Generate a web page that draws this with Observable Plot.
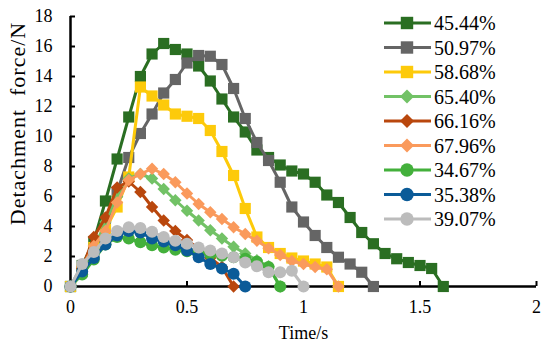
<!DOCTYPE html>
<html><head><meta charset="utf-8">
<script src="https://cdn.jsdelivr.net/npm/d3@7"></script>
<script src="https://cdn.jsdelivr.net/npm/@observablehq/plot@0.6"></script>
<style>
body{margin:0;background:#fff;}
#chart{position:relative;width:550px;height:346px;font-family:"Liberation Serif","Times New Roman",serif;}
#chart svg, #chart text{font-family:"Liberation Serif","Times New Roman",serif !important;}
#legend{position:absolute;left:380px;top:8px;}
</style></head><body><div id="chart"></div>
<script>
// ---- data ----
const seriesNames = ["45.44%","50.97%","58.68%","65.40%","66.16%","67.96%","34.67%","35.38%","39.07%"];
const seriesColors = ["#2a6e22","#656565","#fdca0a","#72c266","#b9470d","#fa9a5c","#43b03b","#0b5b98","#bcbcbc"];
const seriesSymbols = ["square","square","square","diamond2","diamond2","diamond2","circle","circle","circle"];
const timeValues = [0,0.05,0.1,0.15,0.2,0.25,0.3,0.35,0.4,0.45,0.5,0.55,0.6,0.65,0.7,0.75,0.8,0.85,0.9,0.95,1.0,1.05,1.1,1.15,1.2,1.25,1.3,1.35,1.4,1.45,1.5,1.55,1.6];
const f4544 = [0,1.4,3.0,5.7,8.5,11.3,14.0,15.5,16.2,15.8,15.5,14.7,13.7,12.5,11.3,10.3,9.1,8.6,8.1,7.7,7.5,6.95,6.1,5.6,4.6,3.6,2.85,2.2,1.85,1.6,1.4,1.2,0];
const f5097 = [0,1.0,2.3,4.0,6.3,8.6,10.2,11.5,12.9,13.8,14.9,15.4,15.35,14.8,13.2,11.2,9.6,8.4,6.95,5.3,4.3,3.4,2.6,1.95,1.5,0.95,0];
const f5868 = [0,1.2,2.6,3.8,5.3,7.3,13.3,12.7,12.1,11.5,11.35,11.2,10.4,9.0,7.4,5.2,3.3,2.6,2.2,1.9,1.7,1.5,1.3,0];
const f6540 = [0,1.2,2.5,4.3,6.0,7.2,7.5,7.2,6.5,5.75,5.05,4.4,3.75,3.2,2.65,2.2,1.75,1.35,0];
const f6616 = [0,1.2,3.3,4.6,6.6,7.0,6.3,5.3,4.4,3.7,3.1,2.5,1.9,1.3,0];
const f6796 = [0,1.3,2.7,3.7,5.6,7.1,7.5,7.85,7.5,6.95,6.2,5.5,4.95,4.5,3.95,3.5,3.05,2.55,2.1,1.7,1.5,1.3,1.15,0];
const f3467 = [0,0.8,1.8,2.8,3.3,3.2,2.95,2.75,2.6,2.45,2.35,2.25,2.15,2.05,1.95,1.85,1.65,1.3,0];
const f3538 = [0,1.0,1.9,2.8,3.4,3.7,3.6,3.2,3.0,2.75,2.4,1.95,1.5,1.2,0.85,0];
const f3907 = [0,1.5,2.3,3.2,3.7,3.95,3.9,3.65,3.3,3.05,2.85,2.6,2.4,2.2,1.95,1.6,1.35,0.95,0.95,1.05,0];
const seriesValues = [f4544,f5097,f5868,f6540,f6616,f6796,f3467,f3538,f3907];
const xTicks = [0,0.5,1,1.5,2];
const yTicks = [0,2,4,6,8,10,12,14,16,18];
const xLabel = "Time/s";
const yLabel = "Detachment\u00a0 force/N";

const FONT = '"Liberation Serif", "Times New Roman", serif';
const rows = seriesNames.map((name,i)=>seriesValues[i].map((v,j)=>({series:name,t:timeValues[j],f:v})));

const symR = {square:6.3, diamond2:5.6, circle:6};
const seriesMarks = rows.flatMap((data,i)=>[
  Plot.line(data,{x:"t",y:"f",stroke:seriesColors[i],strokeWidth:3}),
  Plot.dot(data,{x:"t",y:"f",symbol:seriesSymbols[i],fill:seriesColors[i],stroke:"none",r:symR[seriesSymbols[i]]})
]);

const plot = Plot.plot({
  width:550, height:346,
  marginLeft:70, marginRight:14, marginTop:16, marginBottom:60,
  style:{fontFamily:FONT, fontSize:"18px", color:"black", background:"white", overflow:"visible"},
  x:{domain:[0,2]},
  y:{domain:[0,18]},
  marks:[
    Plot.axisY(yTicks,{tickSize:0,tickPadding:18,label:null,fontSize:18}),
    Plot.axisY(yTicks,{tickSize:-5,tickFormat:()=>"",label:null,strokeWidth:2}),
    Plot.axisX(xTicks,{tickSize:0,tickPadding:14,tickFormat:d=>String(d),label:null,fontSize:18}),
    Plot.axisX(xTicks,{tickSize:-5,tickFormat:()=>"",label:null,strokeWidth:2}),
    Plot.ruleX([0],{strokeWidth:2.5}),
    Plot.ruleY([0],{strokeWidth:2.5}),
    ...seriesMarks,
    Plot.text([yLabel],{frameAnchor:"left",rotate:-90,dx:-53,dy:-28,fontSize:22,textAnchor:"middle",lineAnchor:"middle"}),
    Plot.text([xLabel],{frameAnchor:"bottom",dy:47,fontSize:18,textAnchor:"middle",lineAnchor:"middle"})
  ]
});
const chart = document.getElementById("chart");
chart.appendChild(plot);
d3.select(plot).selectAll("text").filter(function(){return this.textContent===yLabel;}).style("letter-spacing","1px");

// legend overlay
const lg = d3.select(chart).append("svg").attr("id","legend").attr("width",170).attr("height",230);
const symMap = {square:d3.symbolSquare, diamond2:d3.symbolDiamond2, circle:d3.symbolCircle};
seriesNames.forEach((name,i)=>{
  const g = lg.append("g").attr("transform",`translate(0,${15+24.5*i})`);
  g.append("line").attr("x1",4).attr("x2",51).attr("y1",0).attr("y2",0).attr("stroke",seriesColors[i]).attr("stroke-width",3);
  const r = symR[seriesSymbols[i]]+0.7;
  g.append("path").attr("transform","translate(27,0)").attr("d",d3.symbol(symMap[seriesSymbols[i]], Math.PI*r*r)()).attr("fill",seriesColors[i]);
  g.append("text").attr("x",54).attr("y",0).attr("dy","0.35em").style("font-size","20px").style("font-family",FONT).attr("fill","black").text(name);
});
</script></body></html>
